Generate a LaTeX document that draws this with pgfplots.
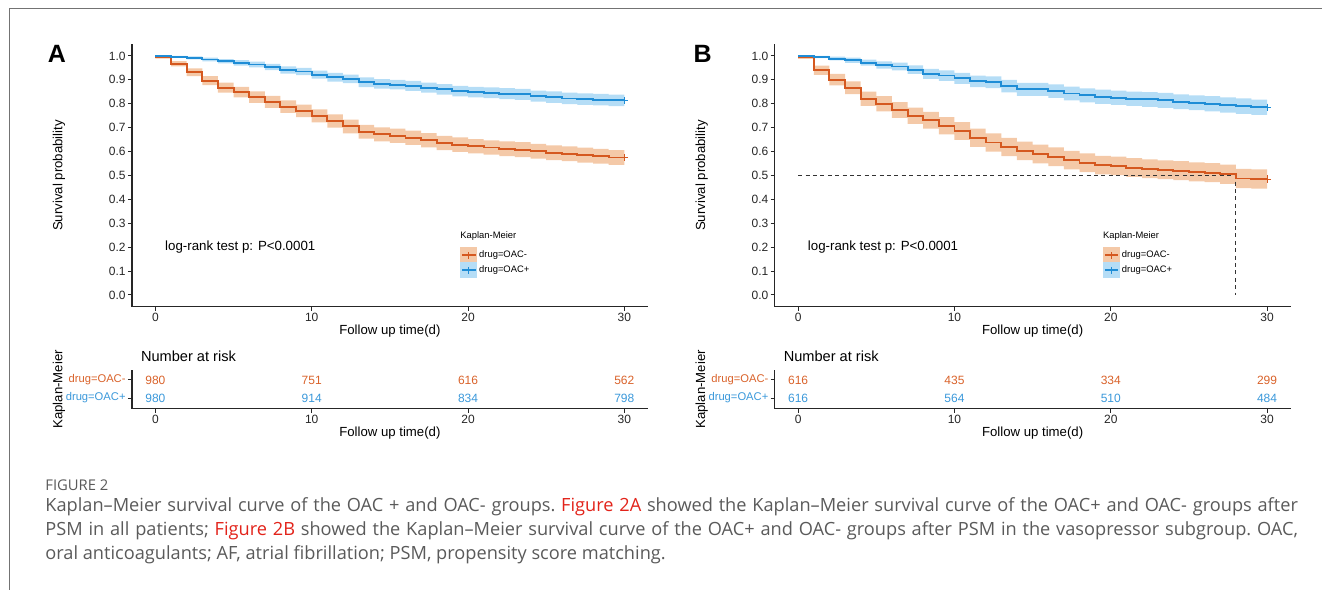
\documentclass[border=0pt]{standalone}
\usepackage{fontspec}
\setmainfont{Liberation Sans}
\newfontfamily\capfont{Open Sans}
\usepackage{pgfplots}
\pgfplotsset{compat=1.18}
\usepgfplotslibrary{fillbetween}
\usepackage{pgfplotstable}

\definecolor{lineO}{HTML}{D5581F}
\definecolor{bandO}{HTML}{F4C9A8}
\definecolor{lineB}{HTML}{1F8DD6}
\definecolor{bandB}{HTML}{B5DDF6}
\definecolor{txtO}{HTML}{D9622A}
\definecolor{txtB}{HTML}{3A98DA}
\definecolor{capgray}{HTML}{5A5A5A}
\definecolor{capred}{HTML}{E2231A}

% KM estimates: t, survival, lower and upper CI
\pgfplotstableread{
t s lo hi
0 0.994 0.989 0.999
1 0.967 0.956 0.978
2 0.932 0.916 0.948
3 0.897 0.878 0.916
4 0.867 0.846 0.888
5 0.849 0.827 0.871
6 0.828 0.804 0.852
7 0.808 0.783 0.833
8 0.788 0.762 0.814
9 0.770 0.744 0.796
10 0.749 0.722 0.776
11 0.728 0.700 0.756
12 0.705 0.676 0.734
13 0.683 0.654 0.712
14 0.672 0.643 0.701
15 0.666 0.636 0.696
16 0.658 0.628 0.688
17 0.647 0.617 0.677
18 0.636 0.606 0.666
19 0.629 0.599 0.659
20 0.622 0.592 0.652
21 0.617 0.587 0.647
22 0.612 0.581 0.643
23 0.608 0.577 0.639
24 0.601 0.570 0.632
25 0.595 0.564 0.626
26 0.591 0.560 0.622
27 0.585 0.554 0.616
28 0.580 0.549 0.611
29 0.575 0.544 0.606
30 0.575 0.544 0.606
}\Aneg
\pgfplotstableread{
t s lo hi
0 1.000 0.999 1.000
1 0.997 0.994 1.000
2 0.992 0.986 0.998
3 0.985 0.977 0.993
4 0.978 0.969 0.987
5 0.971 0.960 0.982
6 0.964 0.952 0.976
7 0.954 0.941 0.967
8 0.941 0.926 0.956
9 0.935 0.920 0.950
10 0.922 0.905 0.939
11 0.911 0.893 0.929
12 0.904 0.886 0.922
13 0.890 0.870 0.910
14 0.883 0.863 0.903
15 0.880 0.860 0.900
16 0.875 0.854 0.896
17 0.867 0.846 0.888
18 0.860 0.838 0.882
19 0.853 0.831 0.875
20 0.849 0.827 0.871
21 0.846 0.823 0.869
22 0.842 0.819 0.865
23 0.839 0.816 0.862
24 0.832 0.809 0.855
25 0.828 0.804 0.852
26 0.822 0.798 0.846
27 0.819 0.795 0.843
28 0.817 0.793 0.841
29 0.814 0.790 0.838
30 0.814 0.790 0.838
}\Apos
\pgfplotstableread{
t s lo hi
0 0.994 0.988 1.000
1 0.940 0.921 0.959
2 0.901 0.877 0.925
3 0.867 0.840 0.894
4 0.821 0.791 0.851
5 0.800 0.768 0.832
6 0.774 0.741 0.807
7 0.750 0.716 0.784
8 0.731 0.696 0.766
9 0.708 0.672 0.744
10 0.686 0.649 0.723
11 0.658 0.620 0.696
12 0.638 0.600 0.676
13 0.619 0.581 0.657
14 0.603 0.564 0.642
15 0.590 0.551 0.629
16 0.578 0.539 0.617
17 0.564 0.525 0.603
18 0.553 0.514 0.592
19 0.543 0.504 0.582
20 0.540 0.501 0.579
21 0.533 0.494 0.572
22 0.528 0.489 0.567
23 0.524 0.485 0.563
24 0.520 0.480 0.560
25 0.515 0.475 0.555
26 0.512 0.472 0.552
27 0.505 0.465 0.545
28 0.487 0.447 0.527
29 0.485 0.445 0.525
30 0.485 0.445 0.525
}\Bneg
\pgfplotstableread{
t s lo hi
0 1.000 0.999 1.000
1 0.996 0.991 1.000
2 0.989 0.981 0.997
3 0.982 0.971 0.993
4 0.972 0.959 0.985
5 0.962 0.947 0.977
6 0.956 0.940 0.972
7 0.943 0.925 0.961
8 0.925 0.904 0.946
9 0.918 0.896 0.940
10 0.906 0.883 0.929
11 0.894 0.870 0.918
12 0.890 0.865 0.915
13 0.874 0.848 0.900
14 0.860 0.833 0.887
15 0.860 0.833 0.887
16 0.853 0.825 0.881
17 0.843 0.814 0.872
18 0.835 0.806 0.864
19 0.829 0.799 0.859
20 0.825 0.795 0.855
21 0.821 0.791 0.851
22 0.818 0.787 0.849
23 0.814 0.783 0.845
24 0.808 0.777 0.839
25 0.804 0.773 0.835
26 0.800 0.768 0.832
27 0.795 0.763 0.827
28 0.790 0.758 0.822
29 0.785 0.753 0.817
30 0.785 0.753 0.817
}\Bpos

\pgfplotsset{
  km base/.style={
    scale only axis, width=258pt,
    axis x line=bottom, axis y line=left,
    axis line style={-, line width=0.6pt, black!85},
    tick align=outside, major tick length=2pt,
    tick style={line width=0.5pt, black!85},
    xmin=-1.5, xmax=31.5, xtick={0,10,20,30},
    /pgf/number format/assume math mode=true,
    ticklabel style={font=\fontsize{6}{7}\selectfont, text=black!85, inner sep=1pt},
    label style={font=\fontsize{6.6}{8}\selectfont},
    xlabel={Follow up time(d)},
    xlabel style={at={(axis description cs:0.5,0)}, anchor=center, yshift=-12pt},
    ylabel style={at={(axis description cs:-0.1415,0.5)}, anchor=center},
  },
  km main/.style={
    km base, height=131.5pt,
    ymin=-0.05, ymax=1.05,
    ytick={0,0.1,0.2,0.3,0.4,0.5,0.6,0.7,0.8,0.9,1.0},
    yticklabel style={/pgf/number format/.cd, fixed, fixed zerofill, precision=1},
    ylabel={Survival probability},
    legend style={draw=none, fill=none, at={(axis description cs:0.636,0.228)},
      anchor=north west, font=\fontsize{4.7}{5.5}\selectfont,
      row sep=-0.3pt, inner sep=0pt, nodes={inner sep=1pt, anchor=west}},
    legend cell align=left,
  },
  km risk/.style={
    km base, height=19.5pt,
    ymin=0.406, ymax=2.556, ytick={1,2},
    yticklabels={{\textcolor{txtB}{drug=OAC+}},{\textcolor{txtO}{drug=OAC-}}},
    yticklabel style={font=\fontsize{5.6}{6.5}\selectfont},
    ylabel={Kaplan-Meier},
    title={Number at risk},
    title style={at={(axis description cs:0,1)}, anchor=west, xshift=1pt, yshift=1pt,
      font=\fontsize{7.3}{8}\selectfont},
    every node near coord/.append style={anchor=center, font=\fontsize{6}{7}\selectfont},
  },
  keyO/.style={legend image code/.code={
    \fill[bandO] (0pt,-3.7pt) rectangle (8pt,3.7pt);
    \draw[lineO, line width=0.9pt] (0.6pt,0pt) -- (7.4pt,0pt);
    \draw[lineO, line width=0.5pt] (4pt,-1.8pt) -- (4pt,1.8pt);}},
  keyB/.style={legend image code/.code={
    \fill[bandB] (0pt,-3.7pt) rectangle (8pt,3.7pt);
    \draw[lineB, line width=0.9pt] (0.6pt,0pt) -- (7.4pt,0pt);
    \draw[lineB, line width=0.5pt] (4pt,-1.8pt) -- (4pt,1.8pt);}},
}

\begin{document}
\begin{tikzpicture}
\path (0pt,0pt) rectangle (661pt,-295pt);
\draw[black!55, line width=0.5pt] (4.6pt,-295pt) -- (4.6pt,-4.2pt) -- (661pt,-4.2pt);

\node[font=\bfseries\fontsize{12.5}{14}\selectfont] at (28.5pt,-27pt) {A};
\node[font=\bfseries\fontsize{12.5}{14}\selectfont] at (351.5pt,-27pt) {B};

% ---- panel A: survival curves
\begin{axis}[km main, at={(66pt,-153.5pt)}, anchor=south west]
\addplot[name path=aoh, draw=none, const plot, forget plot] table[x=t, y=hi] {\Aneg};
\addplot[name path=aol, draw=none, const plot, forget plot] table[x=t, y=lo] {\Aneg};
\addplot[bandO, forget plot] fill between[of=aoh and aol];
\addplot[name path=aph, draw=none, const plot, forget plot] table[x=t, y=hi] {\Apos};
\addplot[name path=apl, draw=none, const plot, forget plot] table[x=t, y=lo] {\Apos};
\addplot[bandB, forget plot] fill between[of=aph and apl];
\addplot[lineO, line width=0.95pt, const plot, forget plot] table[x=t, y=s] {\Aneg};
\addplot[lineB, line width=0.95pt, const plot, forget plot] table[x=t, y=s] {\Apos};
\addplot[lineO, only marks, mark=+, mark size=1.8pt, forget plot] coordinates {(30,0.575)};
\addplot[lineB, only marks, mark=+, mark size=1.8pt, forget plot] coordinates {(30,0.814)};
\addlegendimage{keyO}\addlegendentry{drug=OAC-}
\addlegendimage{keyB}\addlegendentry{drug=OAC+}
\node[anchor=west, inner sep=0pt, font=\fontsize{4.7}{5}\selectfont] at (axis description cs:0.636,0.27) {Kaplan-Meier};
\node[anchor=west, inner sep=0pt, font=\fontsize{6.65}{8}\selectfont] at (axis cs:0.6,0.2) {log-rank test p: P<0.0001};
\end{axis}

% ---- panel B: survival curves
\begin{axis}[km main, at={(387.5pt,-153.5pt)}, anchor=south west]
\addplot[name path=boh, draw=none, const plot, forget plot] table[x=t, y=hi] {\Bneg};
\addplot[name path=bol, draw=none, const plot, forget plot] table[x=t, y=lo] {\Bneg};
\addplot[bandO, forget plot] fill between[of=boh and bol];
\addplot[name path=bph, draw=none, const plot, forget plot] table[x=t, y=hi] {\Bpos};
\addplot[name path=bpl, draw=none, const plot, forget plot] table[x=t, y=lo] {\Bpos};
\addplot[bandB, forget plot] fill between[of=bph and bpl];
% median survival
\addplot[black!80, line width=0.5pt, dash pattern=on 2pt off 1.7pt, forget plot] coordinates {(0,0.5) (28,0.5) (28,0)};
\addplot[lineO, line width=0.95pt, const plot, forget plot] table[x=t, y=s] {\Bneg};
\addplot[lineB, line width=0.95pt, const plot, forget plot] table[x=t, y=s] {\Bpos};
\addplot[lineO, only marks, mark=+, mark size=1.8pt, forget plot] coordinates {(30,0.485)};
\addplot[lineB, only marks, mark=+, mark size=1.8pt, forget plot] coordinates {(30,0.785)};
\addlegendimage{keyO}\addlegendentry{drug=OAC-}
\addlegendimage{keyB}\addlegendentry{drug=OAC+}
\node[anchor=west, inner sep=0pt, font=\fontsize{4.7}{5}\selectfont] at (axis description cs:0.636,0.27) {Kaplan-Meier};
\node[anchor=west, inner sep=0pt, font=\fontsize{6.65}{8}\selectfont] at (axis cs:0.6,0.2) {log-rank test p: P<0.0001};
\end{axis}

% ---- risk tables
\begin{axis}[km risk, at={(66pt,-204.5pt)}, anchor=south west]
\addplot[draw=none, nodes near coords, point meta=explicit symbolic,
  every node near coord/.append style={text=txtO}] table[x=t, y=y, meta=n] {
t y n
0 2 980
10 2 751
20 2 616
30 2 562
};
\addplot[draw=none, nodes near coords, point meta=explicit symbolic,
  every node near coord/.append style={text=txtB}] table[x=t, y=y, meta=n] {
t y n
0 1 980
10 1 914
20 1 834
30 1 798
};
\end{axis}

\begin{axis}[km risk, at={(387.5pt,-204.5pt)}, anchor=south west]
\addplot[draw=none, nodes near coords, point meta=explicit symbolic,
  every node near coord/.append style={text=txtO}] table[x=t, y=y, meta=n] {
t y n
0 2 616
10 2 435
20 2 334
30 2 299
};
\addplot[draw=none, nodes near coords, point meta=explicit symbolic,
  every node near coord/.append style={text=txtB}] table[x=t, y=y, meta=n] {
t y n
0 1 616
10 1 564
20 1 510
30 1 484
};
\end{axis}

% ---- caption
\node[anchor=base west, inner sep=0pt, text=capgray, font=\capfont\fontsize{7.4}{9}\selectfont]
  at (22.5pt,-245.5pt) {FIGURE 2};
\begin{scope}[every node/.style={anchor=base west, inner sep=0pt, text=capgray,
  font=\capfont\fontsize{9.1}{12}\selectfont\frenchspacing}]
\node at (22.5pt,-256pt) {\makebox[626.5pt][s]{Kaplan–Meier survival curve of the OAC + and OAC- groups. \textcolor{capred}{Figure 2A} showed the Kaplan–Meier survival curve of the OAC+ and OAC- groups after}};
\node at (22.5pt,-268pt) {\makebox[626.5pt][s]{PSM in all patients; \textcolor{capred}{Figure 2B} showed the Kaplan–Meier survival curve of the OAC+ and OAC- groups after PSM in the vasopressor subgroup. OAC,}};
\node at (22.5pt,-280pt) {oral anticoagulants; AF, atrial fibrillation; PSM, propensity score matching.};
\end{scope}
\end{tikzpicture}
\end{document}
